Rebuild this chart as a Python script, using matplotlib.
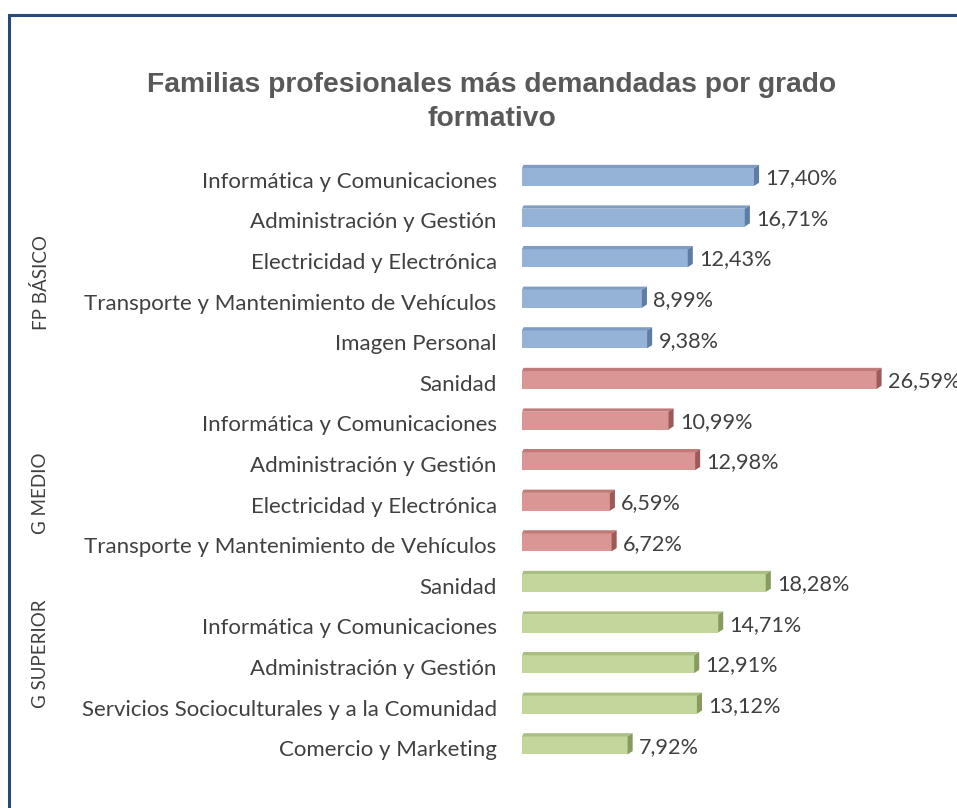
import matplotlib.pyplot as plt
import matplotlib.transforms as mtransforms
from matplotlib.patches import Polygon, Rectangle

# data
categories = [
    'Informática y Comunicaciones', 'Administración y Gestión',
    'Electricidad y Electrónica', 'Transporte y Mantenimiento de Vehículos',
    'Imagen Personal',
    'Sanidad', 'Informática y Comunicaciones', 'Administración y Gestión',
    'Electricidad y Electrónica', 'Transporte y Mantenimiento de Vehículos',
    'Sanidad', 'Informática y Comunicaciones', 'Administración y Gestión',
    'Servicios Socioculturales y a la Comunidad', 'Comercio y Marketing',
]
values = [17.40, 16.71, 12.43, 8.99, 9.38,
          26.59, 10.99, 12.98, 6.59, 6.72,
          18.28, 14.71, 12.91, 13.12, 7.92]
groups = ['FP BÁSICO', 'G MEDIO', 'G SUPERIOR']
group_sizes = [5, 5, 5]

# face, top, side colours per group
FACE = ['#95B3D7', '#D99694', '#C3D69B']
TOP = ['#7E9CC4', '#C07A78', '#A9BE80']
SIDE = ['#5D7DA6', '#9C5A58', '#869C5E']
TEXT = '#404040'
FONT = 'Lato'

W, H = 957, 808
fig = plt.figure(figsize=(W / 100, H / 100), dpi=100)

# outer chart frame (runs past right/bottom edge like the screenshot)
fig.patches.append(Rectangle((9 / W, -0.05), 1.2, 1 - 15 / H + 0.05,
                             transform=fig.transFigure, fill=False,
                             edgecolor='#24497A', linewidth=2.2))

row0, row_step = 177, 40.6
ax_top = row0 - row_step / 2
ax_bot = row0 + row_step * 14.5
ax = fig.add_axes([522 / W, 1 - ax_bot / H, 400 / W, (ax_bot - ax_top) / H])
ax.set_xlim(0, 30)
ax.set_ylim(14.5, -0.5)
ax.axis('off')

colour_idx = []
for g, n in enumerate(group_sizes):
    colour_idx += [g] * n

# fake 3D bars: front face + top bevel + right side
bh = 0.44
dx, dy = 0.38, 0.08
for i, v in enumerate(values):
    g = colour_idx[i]
    ax.barh(i, v, height=bh, color=FACE[g], edgecolor='none', zorder=2)
    top_y = i - bh / 2
    bot_y = i + bh / 2
    ax.add_patch(Polygon([(0, top_y), (v, top_y), (v + dx, top_y - dy), (dx * 0.3, top_y - dy)],
                         closed=True, facecolor=TOP[g], edgecolor='none', zorder=2))
    ax.add_patch(Polygon([(v, top_y), (v + dx, top_y - dy), (v + dx, bot_y - dy), (v, bot_y)],
                         closed=True, facecolor=SIDE[g], edgecolor='none', zorder=2))
    ax.text(v + 0.85, i + 0.03, f'{v:.2f}%'.replace('.', ','), va='center', ha='left',
            fontsize=15.6, color=TEXT, family=FONT, clip_on=False)
    ax.text(-1.9, i + 0.12, categories[i], va='center', ha='right',
            fontsize=16, color=TEXT, family=FONT, clip_on=False)

# group labels, placed in figure x / data y
group_pos = [2.6, 7.8, 11.75]
blend = mtransforms.blended_transform_factory(fig.transFigure, ax.transData)
for name, pos in zip(groups, group_pos):
    ax.text(41 / W, pos, name, rotation=90, va='center', ha='center', transform=blend,
            fontsize=13.5, color=TEXT, family=FONT, clip_on=False)

fig.text(492 / W, 1 - 102 / H, 'Familias profesionales más demandadas por grado\nformativo',
         ha='center', va='center', fontsize=20.3, fontweight='bold', color='#595959',
         family='Liberation Sans', linespacing=1.4)

fig.savefig('out.png', dpi=100)
